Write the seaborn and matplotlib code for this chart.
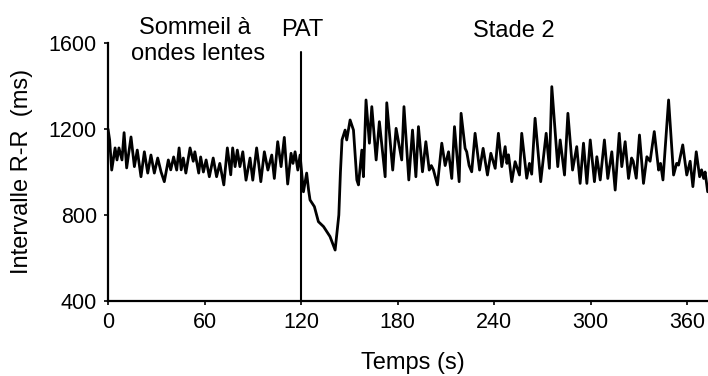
import numpy as np
import pandas as pd
import matplotlib
matplotlib.use("Agg")
import matplotlib.pyplot as plt
import seaborn as sns

# R-R interval trace (time in s, interval in ms)
temps = [
    0, 1.0, 2.3, 4.4, 5.6, 6.8, 8.7, 10.0, 11.6, 14.3, 16.4, 18.2, 20.5, 22.6,
    24.7, 26.7, 28.8, 30.9, 33.0, 35.0, 37.5, 39.0, 40.8, 42.7, 44.2, 45.5,
    46.8, 48.4, 51.0, 53.0, 54.0, 56.4, 57.6, 59.3, 61.0, 63.0, 65.4, 67.5,
    69.5, 72.0, 74.2, 76.3, 77.5, 79.0, 80.4, 82.0, 83.8, 85.8, 88.3, 90.0,
    92.4, 93.5, 95.0, 97.2, 99.4, 101.8, 103.4, 105.5, 107.6, 109.6, 111.7,
    113.8, 115.0, 116.3, 118.0, 119.4, 121.5, 123.5, 124.7, 125.6, 128.3,
    130.8, 134.0, 138.0, 141.2, 143.5, 144.5, 145.5, 147.4, 148.4, 150.5,
    152.6, 154.7, 155.7, 157.8, 158.8, 160.4, 162.5, 164.0, 166.7, 168.7,
    172.3, 173.3, 177.0, 179.1, 182.6, 184.0, 187.0, 189.3, 191.4, 193.0,
    195.5, 197.6, 199.7, 201.0, 202.3, 204.8, 207.5, 209.6, 211.7, 213.7,
    215.4, 218.3, 219.5, 222.0, 223.0, 224.5, 226.1, 228.2, 231.0, 233.2,
    235.9, 238.0, 240.7, 242.7, 244.8, 246.9, 248.0, 249.0, 251.0, 253.1,
    255.8, 257.2, 260.3, 262.0, 263.4, 265.5, 269.0, 272.4, 274.4, 275.9,
    279.6, 281.1, 283.8, 285.9, 288.8, 291.4, 293.5, 295.6, 297.7, 299.8,
    302.4, 303.9, 306.0, 308.6, 310.7, 313.2, 315.3, 317.8, 319.4, 321.5,
    323.6, 325.5, 326.5, 328.4, 330.4, 332.9, 335.0, 337.0, 339.6, 342.3,
    343.5, 345.0, 348.5, 351.6, 353.5, 354.7, 357.3, 359.8, 361.9, 363.6,
    365.7, 367.8, 369.0, 370.3, 371.2, 372.8,
]
intervalle_rr = [
    1200, 1150, 1009, 1112, 1056, 1112, 1056, 1183, 1019, 1163, 1025, 1102, 978, 1094,
    995, 1079, 995, 1065, 1000, 955, 1056, 1010, 1070, 1009, 1112, 1010,
    1065, 995, 1112, 1050, 1094, 995, 1070, 1000, 1056, 978, 1065, 978,
    1040, 940, 1112, 987, 1112, 1025, 1102, 1025, 1094, 962, 1065, 962,
    1112, 1050, 955, 1094, 1009, 1079, 970, 1141, 1025, 1161, 944,
    1087, 1040, 1094, 1009, 1079, 908, 995, 916, 870, 839,
    769, 746, 700, 637, 800, 1000, 1150, 1195, 1149, 1242,
    1195, 963, 940, 1102, 978, 1335, 1134, 1304, 1056, 1234,
    978, 1322, 1009, 1203, 1056, 1304, 963, 1195, 978, 1211,
    1001, 1141, 1009, 1030, 1010, 940, 1134, 1030, 1094, 970,
    1211, 955, 1273, 1110, 1094, 1030, 1001, 1180, 1009, 1110,
    986, 1087, 1017, 1180, 1025, 1118, 1040, 1080, 955, 1048,
    986, 1180, 971, 1040, 990, 1250, 955, 1180, 1017, 1397,
    1025, 1149, 986, 1273, 1009, 1118, 947, 1134, 947, 1149,
    955, 1071, 963, 1149, 970, 1094, 916, 1180, 1025, 1141,
    970, 1065, 1050, 971, 1172, 947, 1071, 1050, 1188, 1009,
    1040, 963, 1335, 986, 1040, 1032, 1126, 986, 1050, 932,
    1094, 978, 1010, 970, 1000, 908,
]
x_ticks = [0, 60, 120, 180, 240, 300, 360]
y_ticks = [400, 800, 1200, 1600]
debut_pat = 120

df = pd.DataFrame({"Temps": temps, "RR": intervalle_rr})

sns.set_theme(style="ticks")
plt.rcParams["font.family"] = ["Liberation Sans", "DejaVu Sans"]
plt.rcParams["text.color"] = "black"

fig = plt.figure(figsize=(7.08, 3.76), dpi=100)
ax = fig.add_axes([108 / 708, 75 / 376, 600 / 708, 258 / 376])

sns.lineplot(data=df, x="Temps", y="RR", ax=ax, color="black",
             linewidth=2.0, sort=False, estimator=None)

# stimulus onset marker, reaching above the plotting area
ax.plot([debut_pat, debut_pat], [400, 1558], color="black", linewidth=1.5,
        clip_on=False, zorder=3)

ax.set_xlim(0, 373)
ax.set_ylim(400, 1600)
ax.set_xticks(x_ticks)
ax.set_yticks(y_ticks)
ax.tick_params(axis="both", labelsize=15.5, length=3, width=1.2,
               color="black", labelcolor="black", pad=5)
for side in ("top", "right"):
    ax.spines[side].set_visible(False)
for side in ("left", "bottom"):
    ax.spines[side].set_linewidth(1.6)
    ax.spines[side].set_color("black")
ax.set_xlabel("")
ax.set_ylabel("")

fs = 17
fig.text(22 / 708, 1 - 171 / 376, "Intervalle R-R  (ms)", rotation=90,
         ha="center", va="center", fontsize=fs)
fig.text(413 / 708, 1 - 369 / 376, "Temps (s)", ha="center", va="baseline",
         fontsize=fs)

fig.text(195 / 708, 1 - 34 / 376, "Sommeil à", ha="center", va="baseline",
         fontsize=fs)
fig.text(198 / 708, 1 - 60 / 376, "ondes lentes", ha="center", va="baseline",
         fontsize=fs)
fig.text(302 / 708, 1 - 36 / 376, "PAT", ha="center", va="baseline",
         fontsize=fs)
fig.text(514 / 708, 1 - 37 / 376, "Stade 2", ha="center", va="baseline",
         fontsize=fs)

fig.savefig("out.png", dpi=100)
